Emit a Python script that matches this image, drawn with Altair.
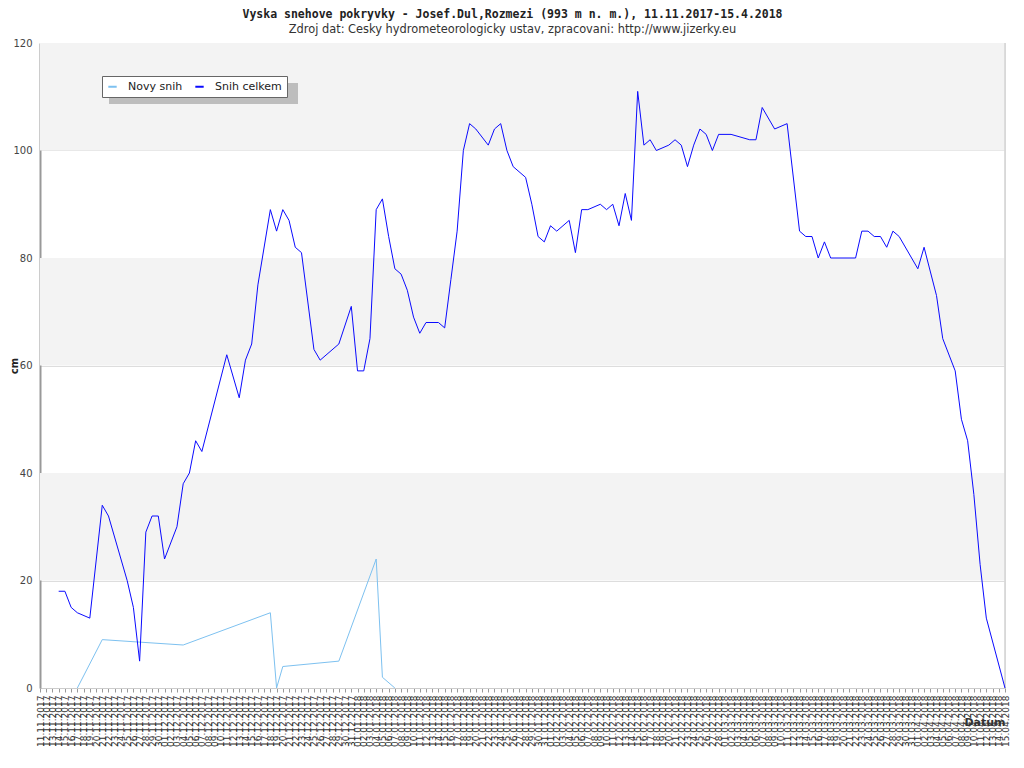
import altair as alt
import pandas as pd

# ---- data ----
celkem_dates = [
    "14.11.2017", "15.11.2017", "16.11.2017", "17.11.2017", "19.11.2017", "21.11.2017",
    "22.11.2017", "25.11.2017", "26.11.2017", "27.11.2017", "28.11.2017", "29.11.2017",
    "30.11.2017", "01.12.2017", "03.12.2017", "04.12.2017", "05.12.2017", "06.12.2017",
    "07.12.2017", "11.12.2017", "13.12.2017", "14.12.2017", "15.12.2017", "16.12.2017",
    "18.12.2017", "19.12.2017", "20.12.2017", "21.12.2017", "22.12.2017", "23.12.2017",
    "24.12.2017", "25.12.2017", "26.12.2017", "29.12.2017", "31.12.2017", "01.01.2018",
    "02.01.2018", "03.01.2018", "04.01.2018", "05.01.2018", "06.01.2018", "07.01.2018",
    "08.01.2018", "09.01.2018", "10.01.2018", "11.01.2018", "12.01.2018", "14.01.2018",
    "15.01.2018", "16.01.2018", "17.01.2018", "18.01.2018", "19.01.2018", "20.01.2018",
    "22.01.2018", "23.01.2018", "24.01.2018", "25.01.2018", "26.01.2018", "28.01.2018",
    "29.01.2018", "30.01.2018", "31.01.2018", "01.02.2018", "02.02.2018", "03.02.2018",
    "04.02.2018", "05.02.2018", "06.02.2018", "07.02.2018", "09.02.2018", "10.02.2018",
    "11.02.2018", "12.02.2018", "13.02.2018", "14.02.2018", "15.02.2018", "16.02.2018",
    "17.02.2018", "18.02.2018", "20.02.2018", "21.02.2018", "22.02.2018", "23.02.2018",
    "24.02.2018", "25.02.2018", "26.02.2018", "27.02.2018", "28.02.2018", "02.03.2018",
    "05.03.2018", "06.03.2018", "07.03.2018", "09.03.2018", "11.03.2018", "13.03.2018",
    "14.03.2018", "15.03.2018", "16.03.2018", "17.03.2018", "18.03.2018", "22.03.2018",
    "23.03.2018", "24.03.2018", "25.03.2018", "26.03.2018", "27.03.2018", "28.03.2018",
    "29.03.2018", "01.04.2018", "02.04.2018", "04.04.2018", "05.04.2018", "07.04.2018",
    "08.04.2018", "09.04.2018", "10.04.2018", "11.04.2018", "12.04.2018", "15.04.2018",
]
celkem_values = [
    18, 18, 15, 14, 13, 34,
    32, 20, 15, 5, 29, 32,
    32, 24, 30, 38, 40, 46,
    44, 62, 54, 61, 64, 75,
    89, 85, 89, 87, 82, 81,
    72, 63, 61, 64, 71, 59,
    59, 65, 89, 91, 84, 78,
    77, 74, 69, 66, 68, 68,
    67, 76, 85, 100, 105, 104,
    101, 104, 105, 100, 97, 95,
    90, 84, 83, 86, 85, 86,
    87, 81, 89, 89, 90, 89,
    90, 86, 92, 87, 111, 101,
    102, 100, 101, 102, 101, 97,
    101, 104, 103, 100, 103, 103,
    102, 102, 108, 104, 105, 85,
    84, 84, 80, 83, 80, 80,
    85, 85, 84, 84, 82, 85,
    84, 78, 82, 73, 65, 59,
    50, 46, 36, 23, 13, 0,
]

novy_dates = [
    "17.11.2017", "21.11.2017", "04.12.2017", "18.12.2017", "19.12.2017",
    "20.12.2017", "29.12.2017", "04.01.2018", "05.01.2018", "07.01.2018",
]
novy_values = [0, 9, 8, 14, 0, 4, 5, 24, 2, 0]

series_names = ["Novy snih", "Snih celkem"]
series_colors = ["#7dc1f0", "#0a0aff"]

band_starts = [20, 60, 100]
band_size = 20

axis_start = "11.11.2017"
axis_end = "15.04.2018"

title_text = "Vyska snehove pokryvky - Josef.Dul,Rozmezi (993 m n. m.), 11.11.2017-15.4.2018"
subtitle_text = "Zdroj dat: Cesky hydrometeorologicky ustav, zpracovani: http://www.jizerky.eu"

# ---- build tables ----
df = pd.concat([
    pd.DataFrame({"datum": pd.to_datetime(novy_dates, format="%d.%m.%Y"),
                  "cm": novy_values, "serie": series_names[0]}),
    pd.DataFrame({"datum": pd.to_datetime(celkem_dates, format="%d.%m.%Y"),
                  "cm": celkem_values, "serie": series_names[1]}),
], ignore_index=True)

bands = pd.DataFrame({"y0": band_starts, "y1": [b + band_size for b in band_starts]})

start = pd.to_datetime(axis_start, format="%d.%m.%Y")
end = pd.to_datetime(axis_end, format="%d.%m.%Y")
all_days = pd.date_range(start, end, freq="D")
tick_values = [alt.DateTime(year=d.year, month=d.month, date=d.day) for d in all_days]
domain = [alt.DateTime(year=start.year, month=start.month, date=start.day),
          alt.DateTime(year=end.year, month=end.month, date=end.day)]

W, H = 965, 645

band_layer = alt.Chart(bands).mark_rect(color="#f3f3f3").encode(
    x=alt.value(0), x2=alt.value(W),
    y=alt.Y("y0:Q"), y2="y1:Q",
)

shadow = alt.Chart(bands).mark_rect(color="#bdbdbd").encode(
    x=alt.value(69), x2=alt.value(258), y=alt.value(40), y2=alt.value(61),
)

right_border = alt.Chart(bands).mark_rule(color="#d8d8d8").encode(
    x=alt.value(W), y=alt.value(0), y2=alt.value(H),
)

lines = alt.Chart(df).mark_line(strokeWidth=1, interpolate="linear").encode(
    x=alt.X("datum:T",
            scale=alt.Scale(domain=domain),
            axis=alt.Axis(values=tick_values, format="%d.%m.%Y", labelAngle=270,
                          labelOverlap=False, labelFontSize=9, labelFont="DejaVu Sans",
                          labelColor="#333333", labelPadding=3, tickSize=4,
                          tickColor="#999999", domainColor="#cccccc", grid=False,
                          title="Datum", titleFontSize=11, titleFontWeight="bold",
                          titleFont="DejaVu Sans", titleColor="#333333",
                          titleX=W, titleY=34, titleAlign="right",
                          titleBaseline="middle")),
    y=alt.Y("cm:Q",
            scale=alt.Scale(domain=[0, 120], nice=False),
            axis=alt.Axis(values=[0, 20, 40, 60, 80, 100, 120], ticks=False,
                          labelPadding=8, labelFontSize=10, labelFont="DejaVu Sans",
                          labelColor="#444444", gridColor="#dddddd",
                          domainColor="#999999", domainWidth=2,
                          title="cm", titleFontSize=10, titleFontWeight="bold",
                          titleFont="DejaVu Sans", titleColor="#222222",
                          titleX=-31, titleY=H / 2, titleAngle=270,
                          titleAlign="center", titleBaseline="top")),
    color=alt.Color("serie:N",
                    scale=alt.Scale(domain=series_names, range=series_colors),
                    legend=alt.Legend(orient="none", legendX=62, legendY=33,
                                      direction="horizontal", title=None,
                                      fillColor="white", strokeColor="#666666",
                                      padding=5, symbolType="stroke",
                                      symbolStrokeWidth=2, symbolSize=70,
                                      labelOffset=10, labelFontSize=11,
                                      labelFont="DejaVu Sans",
                                      labelColor="#222222", columnPadding=8)),
)

chart = alt.layer(band_layer, shadow, right_border, lines).properties(
    width=W, height=H,
    autosize=alt.AutoSizeParams(type="none"),
    padding={"left": 32, "top": 35, "right": 11, "bottom": 72},
    title=alt.TitleParams(text=title_text, subtitle=subtitle_text,
                          font="DejaVu Sans Mono", fontSize=11.5, fontWeight="bold",
                          color="#222222", subtitleFont="DejaVu Sans",
                          subtitleFontSize=11.4, subtitleColor="#333333",
                          subtitlePadding=3, anchor="middle", dx=-10, offset=3),
).configure_view(stroke=None).configure(background="white")

chart.save("out.html", embed_options={"renderer": "svg", "actions": False})
